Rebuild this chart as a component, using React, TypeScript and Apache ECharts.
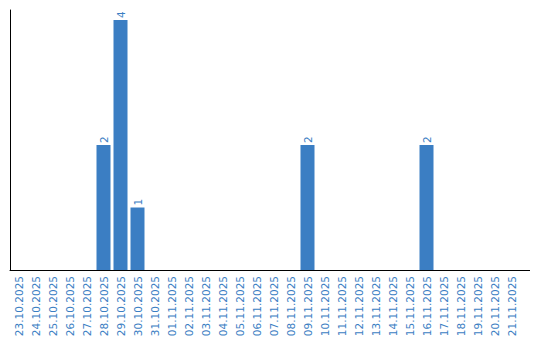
import React, { useEffect, useRef } from "react";
import * as echarts from "echarts";

const categories: string[] = [
  "23.10.2025", "24.10.2025", "25.10.2025", "26.10.2025", "27.10.2025",
  "28.10.2025", "29.10.2025", "30.10.2025", "31.10.2025", "01.11.2025",
  "02.11.2025", "03.11.2025", "04.11.2025", "05.11.2025", "06.11.2025",
  "07.11.2025", "08.11.2025", "09.11.2025", "10.11.2025", "11.11.2025",
  "12.11.2025", "13.11.2025", "14.11.2025", "15.11.2025", "16.11.2025",
  "17.11.2025", "18.11.2025", "19.11.2025", "20.11.2025", "21.11.2025",
];

const counts: (number | null)[] = [
  null, null, null, null, null,
  2, 4, 1, null, null,
  null, null, null, null, null,
  null, null, 2, null, null,
  null, null, null, null, 2,
  null, null, null, null, null,
];

const BLUE = "#3b7ec3";
const FONT = "'DejaVu Sans'";

export default function App() {
  const ref = useRef<HTMLDivElement>(null);

  useEffect(() => {
    document.body.style.margin = "0";
    if (!ref.current) return;
    const chart = echarts.init(ref.current, undefined, { renderer: "svg" });
    chart.setOption({
      animation: false,
      backgroundColor: "#ffffff",
      grid: { left: 10, top: 10, width: 510, height: 260, containLabel: false },
      xAxis: {
        type: "category",
        data: categories,
        axisLine: { show: true, lineStyle: { color: "#000", width: 1 } },
        axisTick: { show: false },
        axisLabel: {
          rotate: 90,
          interval: 0,
          margin: 6,
          color: BLUE,
          fontFamily: FONT,
          fontSize: 10.5,
        },
        splitLine: { show: false },
      },
      yAxis: {
        type: "value",
        min: 0,
        max: 4.16,
        axisLine: { show: true, lineStyle: { color: "#000", width: 1 } },
        axisTick: { show: false },
        axisLabel: { show: false },
        splitLine: { show: false },
      },
      series: [
        {
          type: "bar",
          data: counts,
          barWidth: 14,
          itemStyle: { color: BLUE },
          label: {
            show: true,
            position: "top",
            rotate: 90,
            align: "left",
            verticalAlign: "middle",
            distance: 2,
            color: BLUE,
            fontFamily: FONT,
            fontSize: 10.5,
          },
        },
      ],
      graphic: [
        {
          type: "line",
          shape: { x1: 520, y1: 270.5, x2: 530, y2: 270.5 },
          style: { stroke: "#000", lineWidth: 1 },
          silent: true,
        },
      ],
    });
    return () => chart.dispose();
  }, []);

  return <div ref={ref} style={{ width: 540, height: 340 }} />;
}
